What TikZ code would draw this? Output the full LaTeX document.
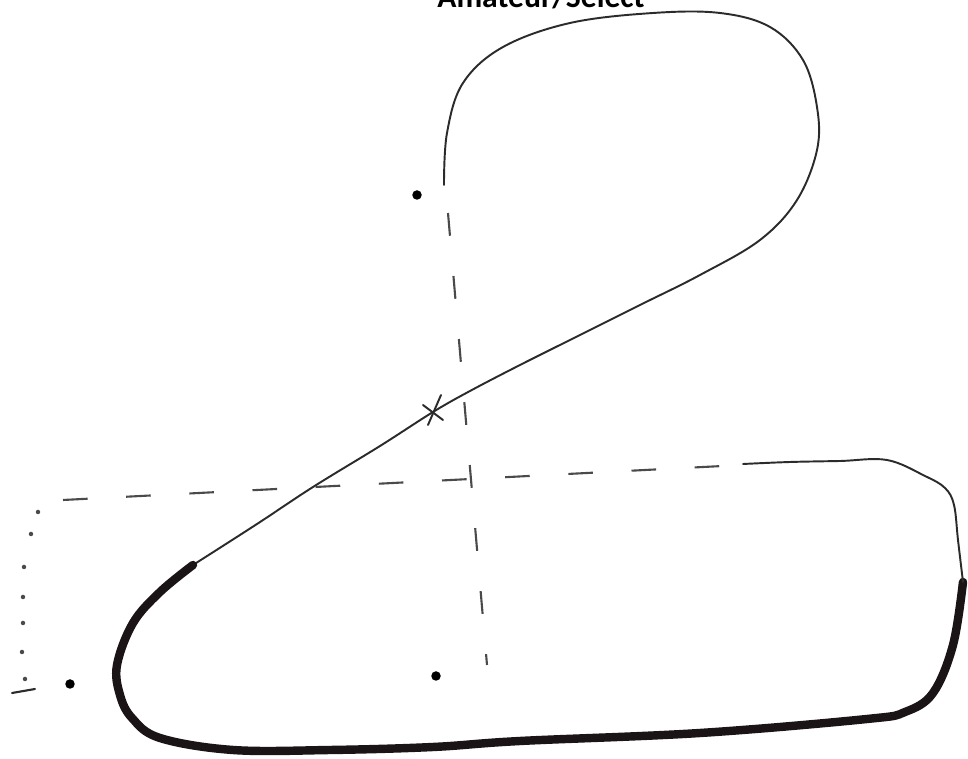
\documentclass[tikz,border=0pt]{standalone}
\usepackage{fontspec}
\setsansfont{Carlito}
\usepackage{tikz}
\definecolor{penink}{HTML}{2B2B2B}
\definecolor{penthick}{HTML}{1A1416}
\definecolor{pengray}{HTML}{4A4A4A}
\tikzset{
	thinline/.style={draw=penink, line width=1.1pt, line cap=round},
	thickline/.style={draw=penthick, line width=4.8pt, line cap=round},
	dashline/.style={draw=pengray, line width=1.2pt, dash pattern=on 13pt off 23pt},
	spot/.style={circle, fill=black, inner sep=0pt, minimum size=0.19cm},
	tinyspot/.style={circle, fill=pengray, inner sep=0pt, minimum size=0.09cm}
}

\begin{document}
\begin{tikzpicture}[x=0.02cm, y=-0.02cm]
	\useasboundingbox (0,0) rectangle (968,759);
	% title, cut off at the top edge
	\node[anchor=base, font=\sffamily\bfseries\fontsize{18}{20}\selectfont] (title) at (541,8) {Amateur/Select};

	% guide lines
	\draw[dashline] (448,213) -- (487,665);
	\draw[dashline, dash pattern=on 14pt off 22pt] (63,500) -- (742,465);
	\foreach \px/\py in {38/512, 31/534, 24/567, 23/597, 23/623, 22/652, 25/679}
		\node[tinyspot] at (\px,\py) {};
	\draw[draw=penink, line width=1.2pt, line cap=round] (12,693) -- (35,689);

	% the line that is flown
	\draw[thinline] plot[smooth, tension=0.6] coordinates {
		(444,185) (447,133) (463,83) (503,47) (570,23) (653,13) (720,13)
		(770,27) (803,60) (817,107) (817,150) (797,200) (760,240) (700,275)
		(640,305) (580,335) (520,365) (470,391) (433,412) (380,446)
		(313,487) (257,524) (193,565)};
	\draw[thickline] plot[smooth, tension=0.6] coordinates {
		(193,565) (160,592) (133,623) (117,665) (120,695) (132,718) (160,738)
		(233,750) (330,750) (433,747) (520,741) (700,733) (867,719)
		(905,712) (933,693) (953,645) (963,582)};
	\draw[thinline] plot[smooth, tension=0.6] coordinates {
		(963,582) (958,540) (954,505) (945,488) (925,476) (887,460)
		(840,461) (790,462) (743,464)};

	% crossing mark
	\draw[thinline] (428,425) -- (441,395);
	\draw[thinline] (423,405) -- (443,420);

	% marks
	\node[spot] (topmark) at (417,195) {};
	\node[spot] (leftmark) at (70,684) {};
	\node[spot] (midmark) at (436,676) {};
\end{tikzpicture}
\end{document}
